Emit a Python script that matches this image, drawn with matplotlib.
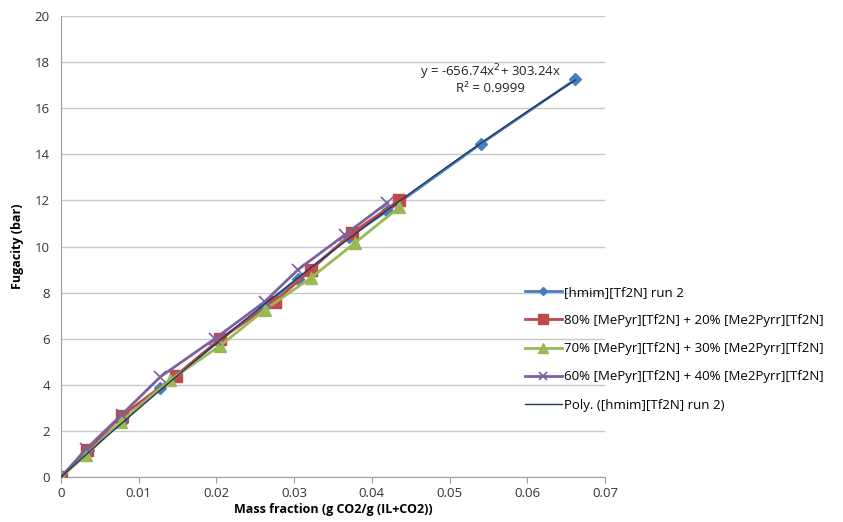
import numpy as np
import matplotlib.pyplot as plt

# mass fraction (g CO2/g (IL+CO2)) and fugacity (bar)
x_hmim = [0, 0.0035, 0.0078, 0.0128, 0.0205, 0.0265, 0.0305, 0.037, 0.042, 0.054, 0.0662]
y_hmim = [0, 1.15, 2.4, 3.85, 5.95, 7.5, 8.6, 10.4, 11.55, 14.45, 17.25]

x_80 = [0, 0.0033, 0.0078, 0.0148, 0.0205, 0.0275, 0.0322, 0.0375, 0.0435]
y_80 = [0, 1.15, 2.65, 4.4, 6.0, 7.6, 9.0, 10.6, 12.0]

x_70 = [0, 0.0032, 0.0077, 0.014, 0.0205, 0.0262, 0.0322, 0.0378, 0.0435]
y_70 = [0, 0.95, 2.4, 4.2, 5.7, 7.25, 8.65, 10.15, 11.7]

x_60 = [0, 0.0032, 0.0078, 0.0128, 0.0198, 0.0262, 0.0305, 0.0365, 0.042]
y_60 = [0, 1.2, 2.7, 4.35, 6.0, 7.6, 9.0, 10.5, 11.9]

labels = ['[hmim][Tf2N] run 2',
          '80% [MePyr][Tf2N] + 20% [Me2Pyrr][Tf2N]',
          '70% [MePyr][Tf2N] + 30% [Me2Pyrr][Tf2N]',
          '60% [MePyr][Tf2N] + 40% [Me2Pyrr][Tf2N]',
          'Poly. ([hmim][Tf2N] run 2)']

plt.rcParams['font.family'] = ['Open Sans', 'DejaVu Sans']

fig = plt.figure(figsize=(8.43, 5.22), dpi=100)
ax = fig.add_axes([61 / 843, 45 / 522, 544 / 843, 461 / 522])

ax.plot(x_hmim, y_hmim, color='#4A7EBB', lw=2, marker='D', ms=6, label=labels[0], zorder=3)
ax.plot(x_80, y_80, color='#BE4B48', lw=2, marker='s', ms=9, label=labels[1], zorder=3)
ax.plot(x_70, y_70, color='#98B954', lw=2, marker='^', ms=9, label=labels[2], zorder=3)
ax.plot(x_60, y_60, color='#7D60A0', lw=2, marker='x', ms=8, mew=1.2, label=labels[3], zorder=3)

# 2nd order polynomial trendline through origin for run 2
xa = np.array(x_hmim)
ya = np.array(y_hmim)
A = np.column_stack([xa ** 2, xa])
coef = np.linalg.lstsq(A, ya, rcond=None)[0]
xf = np.linspace(0, max(x_hmim), 100)
ax.plot(xf, coef[0] * xf ** 2 + coef[1] * xf, color='#1F3864', lw=1, label=labels[4], zorder=4)

ax.text(0.0553, 17.55, 'y = -656.74x$^2$+ 303.24x', ha='center', va='center', fontsize=9.5, color='#222222')
ax.text(0.0553, 16.85, 'R² = 0.9999', ha='center', va='center', fontsize=9.5, color='#222222')

ax.set_xlim(0, 0.07)
ax.set_ylim(0, 20)
ax.set_xticks(np.arange(0, 0.071, 0.01))
ax.set_xticklabels(['0', '0.01', '0.02', '0.03', '0.04', '0.05', '0.06', '0.07'])
ax.set_yticks(range(0, 21, 2))
ax.grid(axis='y', color='#C8C8C8', lw=1)
ax.set_axisbelow(True)
for s in ['top', 'right']:
    ax.spines[s].set_visible(False)
for s in ['left', 'bottom']:
    ax.spines[s].set_color('#A0A0A0')
ax.tick_params(axis='x', length=4, color='#A0A0A0', labelsize=9.5, labelcolor='#333333')
ax.tick_params(axis='y', length=0, pad=8, labelsize=9.5, labelcolor='#333333')
ax.set_xlabel('Mass fraction (g CO2/g (IL+CO2))', fontsize=9, fontweight='bold', labelpad=2)
ax.set_ylabel('Fugacity (bar)', fontsize=9, fontweight='bold', labelpad=8)

fig.legend(loc='upper left', bbox_to_anchor=(513 / 843, 1 - 274 / 522), frameon=False,
           fontsize=9.5, labelspacing=1.15, handlelength=2.8, handletextpad=0.2,
           markerscale=0.75)

fig.savefig('out.png', dpi=100)
